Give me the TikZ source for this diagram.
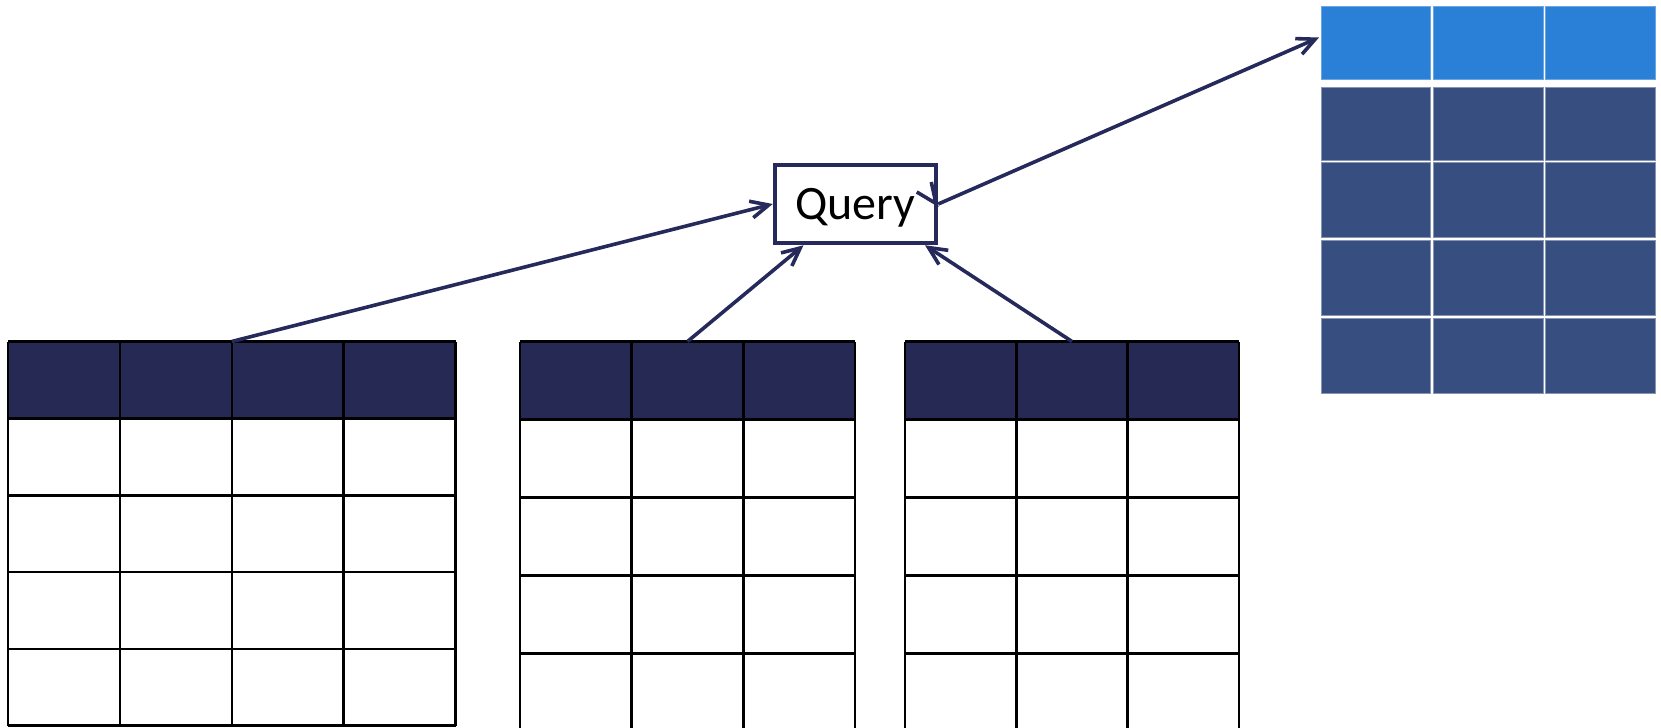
\documentclass[tikz,border=0pt]{standalone}
\usepackage{fontspec}
\setmainfont{Carlito}
\usetikzlibrary{arrows.meta,calc}
\definecolor{navy}{HTML}{262A5A}
\definecolor{hdr}{HTML}{272955}
\definecolor{rhdr}{HTML}{2A80D7}
\definecolor{rbody}{HTML}{374E80}
\begin{document}
\begin{tikzpicture}[x=1bp,y=-1bp,
  gridline/.style={draw=black,line width=2.5bp},
  area/.style={inner sep=0pt,outer sep=0pt,draw=none,anchor=north west},
  qbox/.style={draw=navy,line width=4.5bp,fill=white,minimum width=161bp,minimum height=78bp,
    inner sep=0pt,text height=31bp,text depth=0pt,font=\fontsize{48bp}{58bp}\selectfont},
  conn/.style={draw=navy,line width=3.6bp,-{Straight Barb[length=18bp,width=17bp]}},
  rcellh/.style={fill=rhdr,draw=rhdr!70!white,line width=0.7bp},
  rcellb/.style={fill=rbody,draw=rbody!60!white,line width=0.7bp}]
\useasboundingbox (0,0) rectangle (1661,728);

% Table 1
\fill[hdr] (8,341.5) rectangle (455.5,418.5);
\foreach \x in {8,119.9,231.75,343.6,455.5} \draw[gridline] (\x,341.5) -- (\x,725.5);
\foreach \y in {341.5,418.5,495.25,572,648.75,725.5} \draw[gridline] (8,\y) -- (455.5,\y);
\node[area,minimum width=447.5bp,minimum height=384bp] (t1) at (8,341.5) {};

% Table 2
\fill[hdr] (520,341.5) rectangle (855,419.5);
\foreach \x in {520,631.7,743.3,855} \draw[gridline] (\x,341.5) -- (\x,730);
\foreach \y in {341.5,419.5,497.5,575.5,653.5} \draw[gridline] (520,\y) -- (855,\y);
\node[area,minimum width=335bp,minimum height=387bp] (t2) at (520,341.5) {};

% Table 3
\fill[hdr] (905,341.5) rectangle (1239,419.5);
\foreach \x in {905,1016.3,1127.7,1239} \draw[gridline] (\x,341.5) -- (\x,730);
\foreach \y in {341.5,419.5,497.5,575.5,653.5} \draw[gridline] (905,\y) -- (1239,\y);
\node[area,minimum width=334bp,minimum height=387bp] (t3) at (905,341.5) {};

% Result table
\foreach \x in {1321,1433.5,1545.5} \filldraw[rcellh] (\x,6.7) rectangle ++(109.5,72.6);
\foreach \y/\h in {87.3/73,162.3/75.4,240/75.3,318/75.3}
  \foreach \x in {1321,1433.5,1545.5} \filldraw[rcellb] (\x,\y) rectangle ++(109.5,\h);
\node[area,minimum width=334bp,minimum height=72.6bp] (rh) at (1321,6.7) {};

% Query
\node[qbox] (q) at (855.5,204) {Query};

% Connectors
\draw[conn] (t1.north) -- (q.west);
\draw[conn] (t2.north) -- ($(q.south west)!0.186!(q.south east)$);
\draw[conn] (t3.north) -- ($(q.south west)!0.92!(q.south east)$);
\draw[conn] (q.east) -- ($(rh.west)+(-2,-5.5)$);
\draw[navy,line width=3.6bp] ($(q.east)+(-21.5,-12)$) -- ($(q.east)+(-2.25,-0.5)$) -- ($(q.east)+(-7,-22)$);
\end{tikzpicture}
\end{document}
